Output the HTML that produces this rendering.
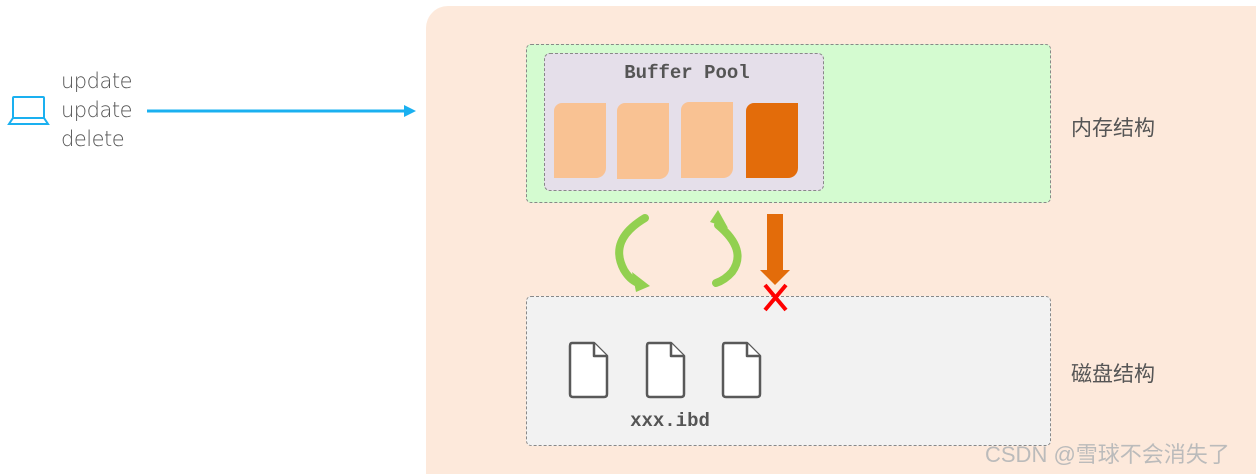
<!DOCTYPE html>
<html><head><meta charset="utf-8"><style>
html,body{margin:0;width:1256px;height:474px;overflow:hidden}
body{background:#fff;position:relative;font-family:"Liberation Sans","Noto Sans CJK SC",sans-serif}
div{position:absolute;box-sizing:border-box}
.pg{background:#f9c293;border-radius:8px 0 10px 0}
.t{color:#555;font-size:21px}
.mono{font-family:"Liberation Mono",monospace;font-weight:bold;color:#555}
</style></head><body>
<div style="left:426px;top:6px;width:830px;height:468px;background:#fde9db;border-radius:22px 0 0 0"></div>
<div style="left:526px;top:44px;width:525px;height:159px;background:#d4fbd0;border:1px dashed #888;border-radius:5px"></div>
<div style="left:544px;top:53px;width:280px;height:138px;background:#e5dfea;border:1px dashed #888;border-radius:6px"></div>
<div class="mono" style="left:544px;top:62px;width:286px;text-align:center;font-size:19px">Buffer Pool</div>
<div class="pg" style="left:554px;top:103px;width:52px;height:75px"></div>
<div class="pg" style="left:617px;top:103px;width:52px;height:76px"></div>
<div class="pg" style="left:681px;top:102px;width:52px;height:76px"></div>
<div class="pg" style="left:746px;top:103px;width:52px;height:75px;background:#e36c0a"></div>
<div style="left:526px;top:296px;width:525px;height:150px;background:#f2f2f2;border:1px dashed #888;border-radius:5px"></div>
<div class="mono" style="left:600px;top:410px;width:140px;text-align:center;font-size:19px">xxx.ibd</div>
<div class="t" style="left:1071px;top:112px">内存结构</div>
<div class="t" style="left:1071px;top:358px">磁盘结构</div>
<div style="left:985px;top:437px;font-size:22px;color:#bbb;white-space:nowrap">CSDN @雪球不会消失了</div>
<div style="left:61px;top:67px;font-size:21px;color:#555;line-height:29px;font-family:'DejaVu Sans',sans-serif;font-weight:300;letter-spacing:-0.5px">update<br>update<br>delete</div>
<svg width="1256" height="474" style="position:absolute;left:0;top:0">
<g fill="none" stroke="#1ab0f0" stroke-width="2">
<rect x="13" y="97" width="31" height="21" rx="1"/><path d="M9 124 L48 124 L44 118 L13 118 Z"/>
</g>
<line x1="147" y1="111" x2="406" y2="111" stroke="#1ab0f0" stroke-width="3"/>
<path d="M404 105 L416 111 L404 117Z" fill="#1ab0f0"/>
<g fill="#fff" stroke="#595959" stroke-width="2.5" stroke-linejoin="round">
<path d="M572 343 H594 L607 356 V394 Q607 397 604 397 H573 Q570 397 570 394 V346 Q570 343 572 343Z"/><path d="M594 343 V356 H607" />
<path d="M649 343 H671 L684 356 V394 Q684 397 681 397 H650 Q647 397 647 394 V346 Q647 343 649 343Z"/><path d="M671 343 V356 H684"/>
<path d="M725 343 H747 L760 356 V394 Q760 397 757 397 H726 Q723 397 723 394 V346 Q723 343 725 343Z"/><path d="M747 343 V356 H760"/>
</g>
<path d="M767 214 H783 V270 H790 L775 285 L760 270 H767Z" fill="#e36c0a"/>
<path d="M765 285 L786 310 M786 285 L765 310" stroke="#f00" stroke-width="4"/>
<g fill="none" stroke="#92d050" stroke-width="8" stroke-linecap="round">
<path d="M645 218 Q608 240 624 270 Q630 280 638 283"/>
<path d="M718 225 Q748 250 732 272 Q725 280 716 283"/>
</g>
<path d="M632 272 L650 286 L636 292Z" fill="#92d050"/>
<path d="M710 222 L718 210 L728 228Z" fill="#92d050"/>
</svg>
</body></html>
